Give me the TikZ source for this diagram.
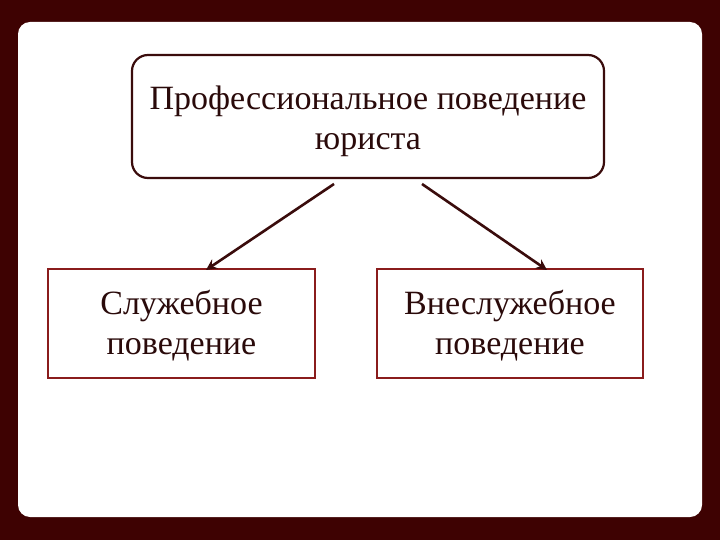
\documentclass[tikz,border=0pt]{standalone}
\usepackage{fontspec}
\setmainfont{Liberation Serif}
\usetikzlibrary{arrows.meta}
\definecolor{bgmaroon}{HTML}{3E0202}
\definecolor{darkline}{HTML}{3A0C0C}
\definecolor{redline}{HTML}{8A1C1C}
\definecolor{txt}{HTML}{2A0A0A}
\tikzset{
  topbox/.style={draw=darkline, line width=2.2pt, rounded corners=16pt, fill=white},
  subbox/.style={draw=redline, line width=1.6pt, fill=white},
  conn/.style={draw=darkline, line width=2.6pt, -{Stealth[length=11pt,width=11pt,inset=4pt]}},
  lbl/.style={text=txt, align=center, font=\fontsize{34}{40}\selectfont}
}
\begin{document}
\begin{tikzpicture}[x=1pt,y=-1pt]
\useasboundingbox (0,0) rectangle (720,540);
\fill[bgmaroon] (0,0) rectangle (720,540);
\fill[white, rounded corners=12pt] (18,22) rectangle (702,517);
\draw[topbox] (132,55) rectangle (604,178);
\node[lbl] (top) at (368,121) {Профессиональное поведение\\юриста};
\draw[subbox] (48,269) rectangle (315,378);
\draw[subbox] (377,269) rectangle (643,378);
\node[lbl] (left) at (181.5,326) {Служебное\\поведение};
\node[lbl] (right) at (510,326) {Внеслужебное\\поведение};
\coordinate (ls) at (334,184);
\coordinate (le) at (206,270);
\coordinate (rs) at (422,184);
\coordinate (re) at (547,270);
\draw[conn] (ls) -- (le);
\draw[conn] (rs) -- (re);
\end{tikzpicture}
\end{document}
